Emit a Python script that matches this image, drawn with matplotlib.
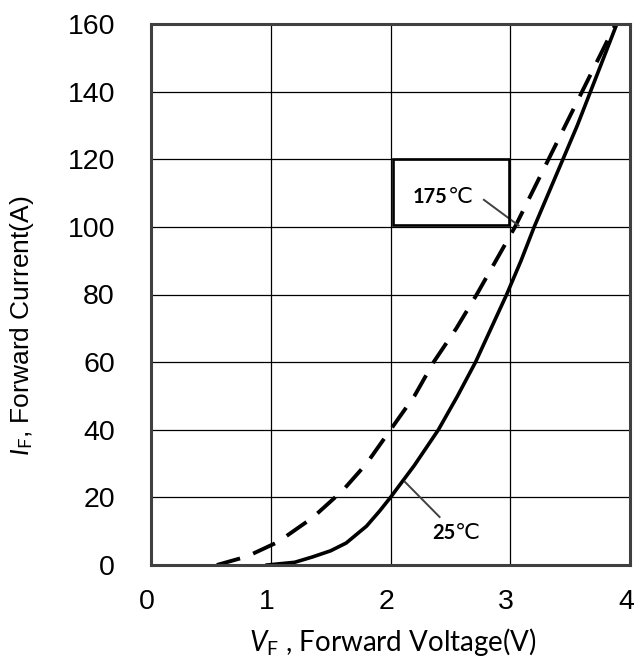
import matplotlib
matplotlib.use("Agg")
import matplotlib.pyplot as plt
import matplotlib.transforms as mtransforms
from matplotlib.patches import Rectangle

plt.rcParams["mathtext.fontset"] = "custom"
plt.rcParams["mathtext.rm"] = "Lato"
plt.rcParams["mathtext.it"] = "Lato:italic"
plt.rcParams["mathtext.bf"] = "Lato:bold"

# 25C curve (solid)
vf_25 = [0.97, 1.2, 1.35, 1.5, 1.63, 1.8, 1.91, 2.0, 2.2, 2.4, 2.56, 2.71, 2.84, 2.97,
         3.09, 3.2, 3.32, 3.44, 3.56, 3.67, 3.78, 3.89]
if_25 = [0, 0.8, 2.4, 4.2, 6.5, 11.5, 16, 20, 29.5, 40, 50, 60, 70, 80,
         90, 100, 110, 120, 130, 140, 150, 160]

# 175C curve (dashed)
vf_175 = [0.55, 0.8, 1.06, 1.35, 1.6, 1.8, 2.0, 2.2, 2.36, 2.55, 2.72, 2.88, 3.04,
          3.18, 3.32, 3.46, 3.6, 3.74, 3.88]
if_175 = [0, 2.5, 6.8, 14, 22, 30, 40, 50, 60, 70, 80, 90, 100,
          110, 120, 130, 140, 150, 160]

xticks = [0, 1, 2, 3, 4]
yticks = [0, 20, 40, 60, 80, 100, 120, 140, 160]

fig = plt.figure(figsize=(6.35, 6.59), dpi=100)
ax = fig.add_axes([151/635, 1 - 565/659, 479/635, 541/659])

ax.plot(vf_25, if_25, color="black", lw=2.6, solid_joinstyle="round")
ax.plot(vf_175, if_175, color="black", lw=2.8, dashes=(6.2, 3.6))

ax.set_xlim(0, 4)
ax.set_ylim(0, 160)
ax.set_xticks(xticks)
ax.set_yticks(yticks)
ax.grid(True, color="black", lw=0.9)
ax.tick_params(length=0, labelsize=20.5)
ax.tick_params(axis="x", pad=17)
ax.tick_params(axis="y", pad=26)
shift = mtransforms.ScaledTranslation(-4/100, 0, fig.dpi_scale_trans)
for lab in ax.get_xticklabels():
    lab.set_family("Liberation Sans")
    lab.set_transform(lab.get_transform() + shift)
for lab in ax.get_yticklabels():
    lab.set_family("Liberation Sans")
for s in ax.spines.values():
    s.set_linewidth(2.2)
    s.set_color("#404040")

ax.set_xlabel(r"$\mathit{V}_\mathrm{F}$ , Forward Voltage(V)", fontsize=20, family="Lato")
ax.xaxis.set_label_coords(0.505, -0.112)
ax.set_ylabel(r"$\mathit{I}_\mathrm{F}$, Forward Current(A)", fontsize=19, family="Liberation Sans")
ax.yaxis.set_label_coords(-0.24, 0.442)

# 175C label box
ax.add_patch(Rectangle((2.02, 100.6), 0.97, 19.4, fill=False, ec="black", lw=1.9, zorder=3))
ax.text(2.475, 108.8, "175", ha="right", va="center", fontsize=14.5, family="Lato", weight="bold")
ax.text(2.475, 108.8, "℃", ha="left", va="center", fontsize=16, family="DejaVu Sans")
ax.plot([2.78, 3.07], [108, 100.4], color="#404040", lw=1.4)

# 25C label
ax.text(2.54, 9.5, "25", ha="right", va="center", fontsize=14.5, family="Lato", weight="bold")
ax.text(2.54, 9.5, "℃", ha="left", va="center", fontsize=16, family="DejaVu Sans")
ax.plot([2.12, 2.41], [24.6, 14.2], color="#404040", lw=1.4)

fig.savefig("out.png", dpi=100)
